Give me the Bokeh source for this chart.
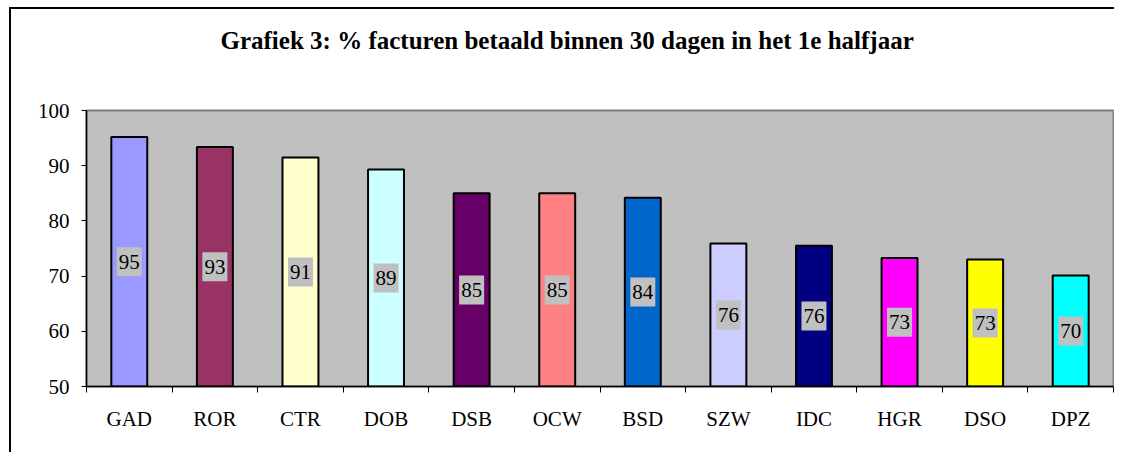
from bokeh.plotting import figure
from bokeh.models import Range1d, FixedTicker, ColumnDataSource, Title
from bokeh.core.properties import value
from bokeh.embed import file_html
from bokeh.resources import INLINE

categories = ["GAD", "ROR", "CTR", "DOB", "DSB", "OCW", "BSD", "SZW", "IDC", "HGR", "DSO", "DPZ"]
values = [95.2, 93.4, 91.5, 89.3, 85.0, 85.0, 84.2, 75.9, 75.5, 73.3, 73.0, 70.1]
labels = ["95", "93", "91", "89", "85", "85", "84", "76", "76", "73", "73", "70"]
colors = ["#9999FF", "#993366", "#FFFFCC", "#CCFFFF", "#660066", "#FF8080",
          "#0066CC", "#CCCCFF", "#000080", "#FF00FF", "#FFFF00", "#00FFFF"]
y_ticks = [50, 60, 70, 80, 90, 100]
title_text = "Grafiek 3: %  facturen betaald binnen 30 dagen in het 1e halfjaar"

Y0 = 50
xs = [i + 0.5 for i in range(len(categories))]
src = ColumnDataSource(dict(
    x=xs, top=values, bottom=[Y0] * len(values), color=colors,
    mid=[(Y0 + v) / 2 for v in values], label=labels,
))

FONT = "'Liberation Serif', 'Times New Roman', serif"

p = figure(width=1105, height=445, output_backend="svg", toolbar_location=None, title=None,
           x_range=Range1d(0, len(categories)), y_range=Range1d(Y0, 100),
           min_border_left=75, min_border_right=3, min_border_top=0, min_border_bottom=68)

p.styles = {"border-left": "2px solid black", "border-top": "2px solid black",
            "margin-left": "9px", "margin-top": "7px"}

# spacer (closest to the frame), then the real title further out
p.add_layout(Title(text=" ", text_font_size="10px", standoff=29), "above")
p.add_layout(Title(text=title_text, text_font=FONT, text_font_size="25px",
                   text_font_style="bold", text_color="black", align="left",
                   offset=134, standoff=30), "above")

p.background_fill_color = "#C0C0C0"
p.border_fill_color = "white"
p.outline_line_color = "#808080"
p.outline_line_width = 2
p.grid.visible = False

p.vbar(x="x", top="top", bottom="bottom", width=0.42, fill_color="color",
       line_color="black", line_width=2, source=src)

p.rect(x="x", y="mid", width=25, height=29, width_units="screen", height_units="screen",
       fill_color="#C0C0C0", line_color=None, source=src)
p.text(x="x", y="mid", text="label", text_align="center", text_baseline="middle",
       text_font=value(FONT), text_font_size="21px", text_color="black", source=src)

# y axis
p.yaxis.ticker = FixedTicker(ticks=y_ticks)
p.yaxis.minor_tick_line_color = None
p.yaxis.major_tick_in = 0
p.yaxis.major_tick_out = 5
p.yaxis.major_label_standoff = 12
p.yaxis.major_label_text_font = FONT
p.yaxis.major_label_text_font_size = "21px"
p.yaxis.major_label_text_color = "black"
p.yaxis.axis_line_color = "black"
p.yaxis.axis_line_width = 1.5
p.yaxis.major_tick_line_color = "black"

# x axis: labels at bar centres, tick marks at category boundaries
p.xaxis.ticker = FixedTicker(ticks=xs, minor_ticks=list(range(len(categories) + 1)))
p.xaxis.major_label_overrides = {x: c for x, c in zip(xs, categories)}
p.xaxis.major_tick_line_color = None
p.xaxis.minor_tick_in = 0
p.xaxis.minor_tick_out = 6
p.xaxis.minor_tick_line_color = "black"
p.xaxis.major_label_standoff = 14
p.xaxis.major_label_text_font = FONT
p.xaxis.major_label_text_font_size = "21px"
p.xaxis.major_label_text_color = "black"
p.xaxis.axis_line_color = "black"
p.xaxis.axis_line_width = 1.5

open("out.html", "w").write(file_html(p, INLINE))
